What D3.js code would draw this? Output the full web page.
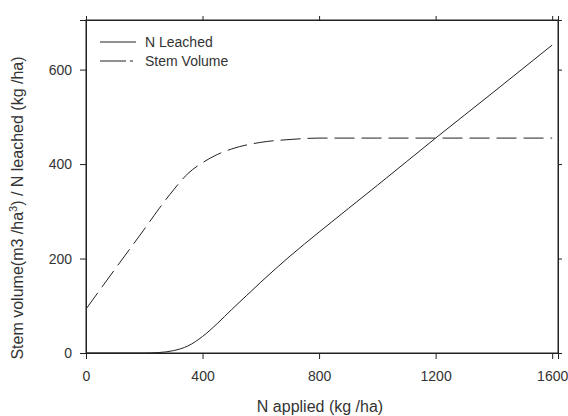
<!DOCTYPE html>
<html>
<head>
<meta charset="utf-8">
<script src="https://cdn.jsdelivr.net/npm/d3@7"></script>
<style>
  body { margin: 0; background: #fff; }
  text { font-family: "Liberation Sans", Arial, sans-serif; fill: #333; }
</style>
</head>
<body>
<svg></svg>
<script>
const width = 568;
const height = 416;
const margin = {top: 20, right: 10, bottom: 63, left: 86};

// N applied (kg/ha)
const nApplied = [0, 100, 200, 250, 300, 350, 400, 450, 500, 550, 600, 700, 800, 1000, 1200, 1400, 1600];
// N leached (kg/ha)
const nLeached = [0, 0, 0, 1, 5, 15, 35, 62, 92, 121, 150, 205, 256, 355, 455, 553, 652];
// Stem volume
const svX = [0, 100, 200, 250, 300, 350, 400, 450, 500, 600, 700, 800, 1000, 1200, 1400, 1600];
const stemVolume = [93, 178, 262, 305, 345, 380, 403, 420, 432, 446, 452, 455, 455, 455, 455, 455];

const xTicks = [0, 400, 800, 1200, 1600];
const yTicks = [0, 200, 400, 600];

const svg = d3.select("svg")
    .attr("width", width)
    .attr("height", height);

const x = d3.scaleLinear().domain([0, 1620]).range([margin.left, width - margin.right]);
const y = d3.scaleLinear().domain([0, 705]).range([height - margin.bottom, margin.top]);

const ink = "#222";

// frame
svg.append("rect")
    .attr("x", margin.left)
    .attr("y", margin.top)
    .attr("width", width - margin.right - margin.left)
    .attr("height", height - margin.bottom - margin.top)
    .attr("fill", "none")
    .attr("stroke", ink)
    .attr("stroke-width", 1);

svg.append("g")
    .attr("transform", `translate(0,${height - margin.bottom})`)
    .call(d3.axisBottom(x).tickValues(xTicks).tickSize(6).tickPadding(12).tickFormat(d3.format("d")));

svg.append("g")
    .attr("transform", `translate(${margin.left},0)`)
    .call(d3.axisLeft(y).tickValues(yTicks).tickSize(6).tickPadding(8).tickFormat(d3.format("d")));

// small ticks on top and right
svg.append("g")
    .attr("transform", `translate(0,${margin.top})`)
    .call(d3.axisTop(x).tickValues(xTicks).tickSize(4).tickFormat(""));
svg.append("g")
    .attr("transform", `translate(${width - margin.right},0)`)
    .call(d3.axisRight(y).tickValues(yTicks).tickSize(4).tickFormat(""));

svg.selectAll(".domain").attr("stroke", ink);
svg.selectAll(".tick line").attr("stroke", ink);
svg.selectAll(".tick text")
    .attr("font-size", 14)
    .attr("font-family", "Liberation Sans, Arial, sans-serif")
    .attr("fill", "#333");

const line = d3.line()
    .x(d => x(d[0]))
    .y(d => y(d[1]))
    .curve(d3.curveMonotoneX);

svg.append("path")
    .datum(d3.zip(nApplied, nLeached))
    .attr("d", line)
    .attr("fill", "none")
    .attr("stroke", ink)
    .attr("stroke-width", 1);

svg.append("path")
    .datum(d3.zip(svX, stemVolume))
    .attr("d", line)
    .attr("fill", "none")
    .attr("stroke", ink)
    .attr("stroke-width", 1)
    .attr("stroke-dasharray", "20,7");

// legend
const legend = svg.append("g").attr("transform", "translate(100,42)");
const items = [{name: "N Leached", dash: null}, {name: "Stem Volume", dash: "26,4,3,4"}];
items.forEach((d, i) => {
    const g = legend.append("g").attr("transform", `translate(0,${i * 19})`);
    g.append("line")
        .attr("x1", 0).attr("x2", 36)
        .attr("stroke", ink)
        .attr("stroke-dasharray", d.dash);
    g.append("text")
        .attr("x", 45)
        .attr("y", 5)
        .attr("font-size", 14)
        .text(d.name);
});

// axis titles
svg.append("text")
    .attr("x", 320)
    .attr("y", 412)
    .attr("text-anchor", "middle")
    .attr("font-size", 16)
    .text("N applied (kg /ha)");

const yt = svg.append("text")
    .attr("transform", "translate(23,208) rotate(-90)")
    .attr("text-anchor", "middle")
    .attr("font-size", 16);
yt.append("tspan").text("Stem volume(m3 /ha");
yt.append("tspan").attr("baseline-shift", "super").attr("font-size", 11).text("3");
yt.append("tspan").text(") / N leached (kg /ha)");
</script>
</body>
</html>
